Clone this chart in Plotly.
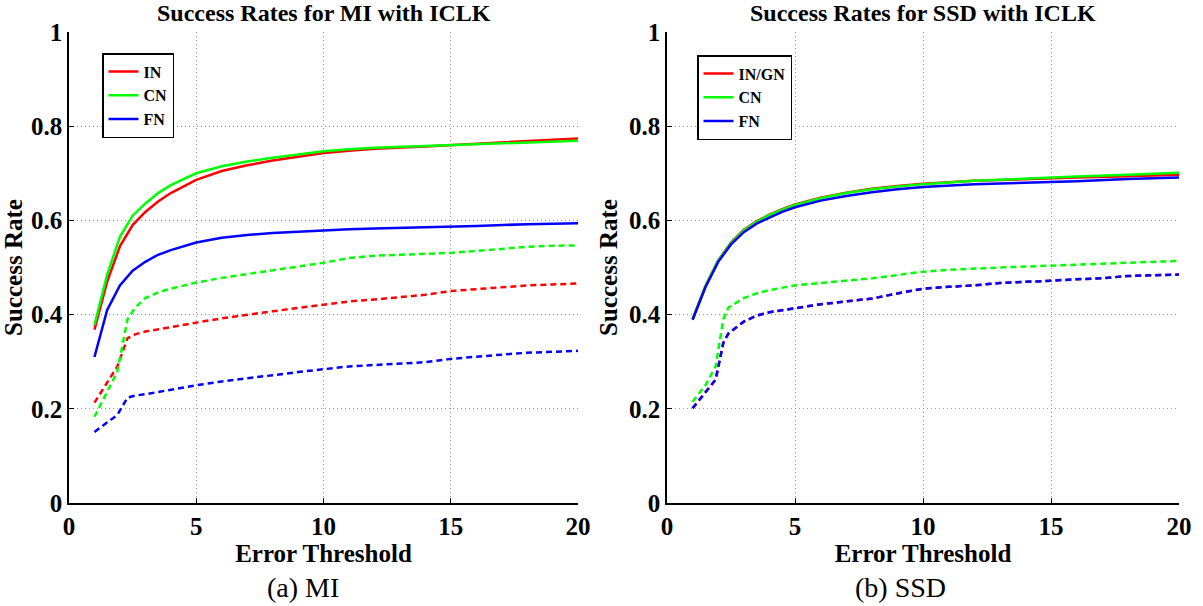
import plotly.graph_objects as go

# ---------------- data: MI panel ----------------
mi_solid_x = [1, 1.5, 2, 2.5, 3, 3.5, 4, 4.5, 5, 6, 7, 8, 9, 10, 11, 12, 14, 16, 18, 20]
mi_in = [0.368, 0.47, 0.545, 0.59, 0.618, 0.64, 0.658, 0.672, 0.686, 0.705, 0.717, 0.727,
         0.735, 0.743, 0.748, 0.752, 0.757, 0.763, 0.769, 0.774]
mi_cn = [0.378, 0.485, 0.565, 0.61, 0.636, 0.658, 0.675, 0.688, 0.700, 0.715, 0.725, 0.733,
         0.740, 0.747, 0.751, 0.754, 0.758, 0.762, 0.766, 0.769]
mi_fn = [0.31, 0.41, 0.462, 0.493, 0.512, 0.527, 0.537, 0.545, 0.553, 0.563, 0.569, 0.573,
         0.576, 0.579, 0.581, 0.583, 0.585, 0.588, 0.592, 0.594]

mi_dash_x = [1, 1.5, 1.9, 2.3, 2.6, 3, 3.5, 4, 5, 6, 7, 8, 9, 10, 11, 12, 13, 14, 15, 16, 17, 18, 19, 20]
mi_in_d = [0.213, 0.255, 0.29, 0.35, 0.358, 0.364, 0.369, 0.374, 0.383, 0.392, 0.400, 0.407,
           0.414, 0.421, 0.428, 0.432, 0.437, 0.442, 0.450, 0.454, 0.458, 0.462, 0.464, 0.466]
mi_cn_d = [0.183, 0.235, 0.279, 0.39, 0.415, 0.435, 0.447, 0.455, 0.468, 0.478, 0.486, 0.495,
           0.503, 0.510, 0.520, 0.525, 0.527, 0.529, 0.531, 0.535, 0.540, 0.544, 0.546, 0.547]
mi_fn_d = [0.151, 0.172, 0.187, 0.224, 0.228, 0.231, 0.236, 0.240, 0.250, 0.258, 0.265, 0.272,
           0.278, 0.284, 0.290, 0.293, 0.296, 0.299, 0.306, 0.311, 0.315, 0.319, 0.321, 0.323]

# ---------------- data: SSD panel ----------------
ssd_solid_x = [1, 1.5, 2, 2.5, 3, 3.5, 4, 4.5, 5, 6, 7, 8, 9, 10, 12, 14, 16, 18, 20]
ssd_in = [0.39, 0.46, 0.515, 0.553, 0.58, 0.598, 0.612, 0.624, 0.634, 0.648, 0.659, 0.667,
          0.673, 0.678, 0.684, 0.688, 0.691, 0.694, 0.697]
ssd_cn = [0.39, 0.46, 0.515, 0.552, 0.579, 0.597, 0.611, 0.623, 0.633, 0.647, 0.658, 0.666,
          0.672, 0.677, 0.684, 0.689, 0.693, 0.697, 0.701]
ssd_fn = [0.389, 0.458, 0.512, 0.549, 0.575, 0.593, 0.606, 0.618, 0.628, 0.642, 0.652, 0.660,
          0.666, 0.671, 0.677, 0.680, 0.683, 0.688, 0.691]

ssd_dash_x = [1, 1.5, 1.9, 2.2, 2.4, 3, 3.5, 4, 5, 6, 7, 8, 9, 10, 11, 12, 13, 14, 15, 16, 17, 18, 19, 20]
ssd_cn_d = [0.215, 0.25, 0.29, 0.39, 0.415, 0.435, 0.445, 0.452, 0.462, 0.467, 0.472, 0.477,
            0.484, 0.491, 0.495, 0.498, 0.500, 0.502, 0.504, 0.506, 0.508, 0.509, 0.512, 0.514]
ssd_in_d = [0.201, 0.235, 0.262, 0.34, 0.36, 0.385, 0.398, 0.405, 0.414, 0.422, 0.428, 0.434,
            0.445, 0.455, 0.459, 0.462, 0.467, 0.469, 0.472, 0.475, 0.477, 0.482, 0.484, 0.485]
ssd_fn_d = [0.201, 0.235, 0.262, 0.34, 0.36, 0.385, 0.398, 0.405, 0.414, 0.422, 0.428, 0.434,
            0.445, 0.455, 0.459, 0.462, 0.467, 0.469, 0.472, 0.475, 0.477, 0.482, 0.484, 0.485]

x_ticks = [0, 5, 10, 15, 20]
x_tick_text = ["0", "5", "10", "15", "20"]
y_ticks = [0, 0.2, 0.4, 0.6, 0.8, 1]
y_tick_text = ["0", "0.2", "0.4", "0.6", "0.8", "1"]

RED, GREEN, BLUE = "#ff0000", "#00ff00", "#0000ff"
SERIF = "Liberation Serif"
LW = 2.5

fig = go.Figure()


def add(x, y, color, name, xa, ya, dash=None, legend="legend", show=True):
    fig.add_trace(go.Scatter(
        x=x, y=y, mode="lines", name="<b>%s</b>" % name, xaxis=xa, yaxis=ya,
        line=dict(color=color, width=LW, dash=dash if dash else "solid"),
        showlegend=show, legend=legend))


D = "6px,4px"
# MI panel
add(mi_solid_x, mi_in, RED, "IN", "x", "y")
add(mi_solid_x, mi_cn, GREEN, "CN", "x", "y")
add(mi_solid_x, mi_fn, BLUE, "FN", "x", "y")
add(mi_dash_x, mi_in_d, RED, "IN", "x", "y", D, show=False)
add(mi_dash_x, mi_cn_d, GREEN, "CN", "x", "y", D, show=False)
add(mi_dash_x, mi_fn_d, BLUE, "FN", "x", "y", D, show=False)
# SSD panel
add(ssd_solid_x, ssd_in, RED, "IN/GN", "x2", "y2", legend="legend2")
add(ssd_solid_x, ssd_cn, GREEN, "CN", "x2", "y2", legend="legend2")
add(ssd_solid_x, ssd_fn, BLUE, "FN", "x2", "y2", legend="legend2")
add(ssd_dash_x, ssd_in_d, RED, "IN/GN", "x2", "y2", D, legend="legend2", show=False)
add(ssd_dash_x, ssd_cn_d, GREEN, "CN", "x2", "y2", D, legend="legend2", show=False)
add(ssd_dash_x, ssd_fn_d, BLUE, "FN", "x2", "y2", D, legend="legend2", show=False)

W, H = 1203, 606
tickfont = dict(family=SERIF, size=25, color="black")
titlefont = dict(family=SERIF, size=25, color="black")
bold = lambda lst: ["<b>%s</b>" % t for t in lst]
GRID = dict(showgrid=True, gridcolor="#9a9a9a", griddash="1px,3px", gridwidth=1)


def xaxis(domain, anchor):
    return dict(domain=domain, anchor=anchor, range=[0, 20], tickvals=x_ticks,
                ticktext=bold(x_tick_text), **GRID,
                zeroline=False, showline=True, linecolor="black", linewidth=1.5,
                ticks="inside", ticklen=5, tickcolor="black", tickfont=tickfont,
                ticklabeloverflow="allow",
                title=dict(text="<b>Error Threshold</b>", font=titlefont, standoff=0),
                automargin=False)


def yaxis(domain, anchor):
    return dict(domain=domain, anchor=anchor, range=[0, 1], tickvals=y_ticks,
                ticktext=bold(y_tick_text), **GRID,
                zeroline=False, showline=True, linecolor="black", linewidth=1.5,
                ticks="inside", ticklen=5, tickcolor="black", tickfont=tickfont,
                ticklabeloverflow="allow",
                title=dict(text="<b>Success Rate</b>", font=titlefont, standoff=4),
                automargin=False)


legfont = dict(family=SERIF, size=16, color="black")
ydom = [1 - 503 / H, 1 - 32 / H]
fig.update_layout(
    width=W, height=H, autosize=False,
    font=dict(family=SERIF, color="black"),
    margin=dict(l=0, r=0, t=0, b=0),
    paper_bgcolor="white", plot_bgcolor="white",
    xaxis=xaxis([69 / W, 578 / W], "y"),
    yaxis=yaxis(ydom, "x"),
    xaxis2=xaxis([667 / W, 1179 / W], "y2"),
    yaxis2=yaxis(ydom, "x2"),
    legend=dict(x=102 / W, y=1 - 53 / H, xanchor="left", yanchor="top",
                bgcolor="white", bordercolor="black", borderwidth=1.5,
                font=legfont, tracegroupgap=0, itemwidth=30),
    legend2=dict(x=697 / W, y=1 - 55 / H, xanchor="left", yanchor="top",
                 bgcolor="white", bordercolor="black", borderwidth=1.5,
                 font=legfont, tracegroupgap=0, itemwidth=30),
    showlegend=True,
    hovermode=False,
)

annots = [
    dict(text="<b>Success Rates for MI with ICLK</b>", x=(69 + 578) / 2 / W, y=1 - 13 / H),
    dict(text="<b>Success Rates for SSD with ICLK</b>", x=(667 + 1179) / 2 / W, y=1 - 13 / H),
]
for a in annots:
    fig.add_annotation(text=a["text"], x=a["x"], y=a["y"], xref="paper", yref="paper",
                       xanchor="center", yanchor="middle", showarrow=False,
                       font=dict(family=SERIF, size=24, color="black"))

captions = [("(a) MI", 303), ("(b) SSD", 900)]
for txt, cx in captions:
    fig.add_annotation(text=txt, x=cx / W, y=1 - 587 / H, xref="paper", yref="paper",
                       xanchor="center", yanchor="middle", showarrow=False,
                       font=dict(family=SERIF, size=28, color="black"))

fig.write_html("out.html",
               config={"displayModeBar": False},
               post_script="document.body.style.margin='0';"
                           "document.body.style.overflow='hidden';")
